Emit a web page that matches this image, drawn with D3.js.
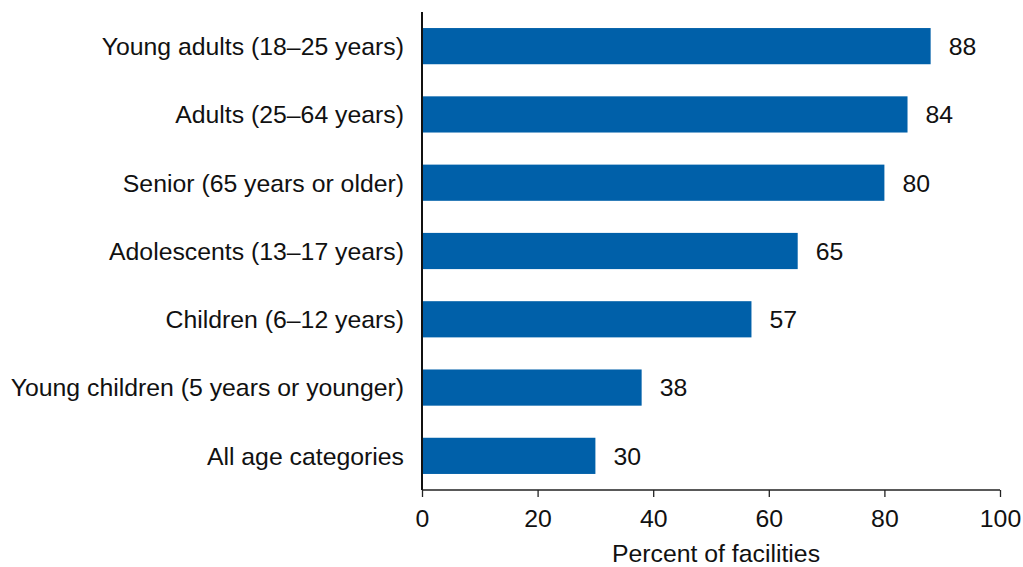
<!DOCTYPE html>
<html><head><meta charset="utf-8">
<script src="https://cdn.jsdelivr.net/npm/d3@7"></script>
<style>body{margin:0;background:#fff}svg{display:block;font-family:"Liberation Sans",Arial,sans-serif}</style>
</head><body><svg id="c" width="1023" height="567"></svg>
<script>
const categories = ["Young adults (18\u201325 years)","Adults (25\u201364 years)","Senior (65 years or older)","Adolescents (13\u201317 years)","Children (6\u201312 years)","Young children (5 years or younger)","All age categories"];
const values = [88,84,80,65,57,38,30];
const xTicks = [0,20,40,60,80,100];
const xTitle = "Percent of facilities";

const FS = 24.8;
const svg = d3.select("#c");
const x = d3.scaleLinear().domain([0,100]).range([422,1000]);
const y = d3.scaleBand().domain(categories).range([12,490]).paddingInner(0.47).paddingOuter(0.235);
const color = "#0060a9";

svg.selectAll("rect.bar").data(values).join("rect")
  .attr("x", x(0)).attr("y",(d,i)=>y(categories[i]))
  .attr("width", d=>x(d)-x(0)).attr("height", y.bandwidth()).attr("fill", color);

svg.selectAll("text.val").data(values).join("text")
  .attr("x", d=>x(d)+18).attr("y",(d,i)=>y(categories[i])+y.bandwidth()/2)
  .attr("dy","0.36em").attr("font-size",FS).attr("fill","#111").text(d=>d);

svg.selectAll("text.cat").data(categories).join("text")
  .attr("x", 404).attr("y", d=>y(d)+y.bandwidth()/2).attr("dy","0.36em")
  .attr("text-anchor","end").attr("font-size",FS).attr("fill","#111").text(d=>d);

const xa = svg.append("g").attr("transform","translate(0,490)")
  .call(d3.axisBottom(x).tickValues(xTicks).tickSize(7).tickPadding(12));
xa.selectAll("path,line").attr("stroke","#222").attr("stroke-width",1.3);
xa.selectAll("text").attr("font-size",FS).attr("fill","#111").attr("font-family","Liberation Sans, Arial, sans-serif");
xa.select(".domain").attr("d","M422,0H1000");

svg.append("line").attr("x1",x(0)).attr("x2",x(0)).attr("y1",12).attr("y2",490)
  .attr("stroke","#111").attr("stroke-width",2);

svg.append("text").attr("x",(x(0)+x(100))/2+5).attr("y",562).attr("text-anchor","middle")
  .attr("font-size",FS).attr("fill","#111").text(xTitle);
</script></body></html>
